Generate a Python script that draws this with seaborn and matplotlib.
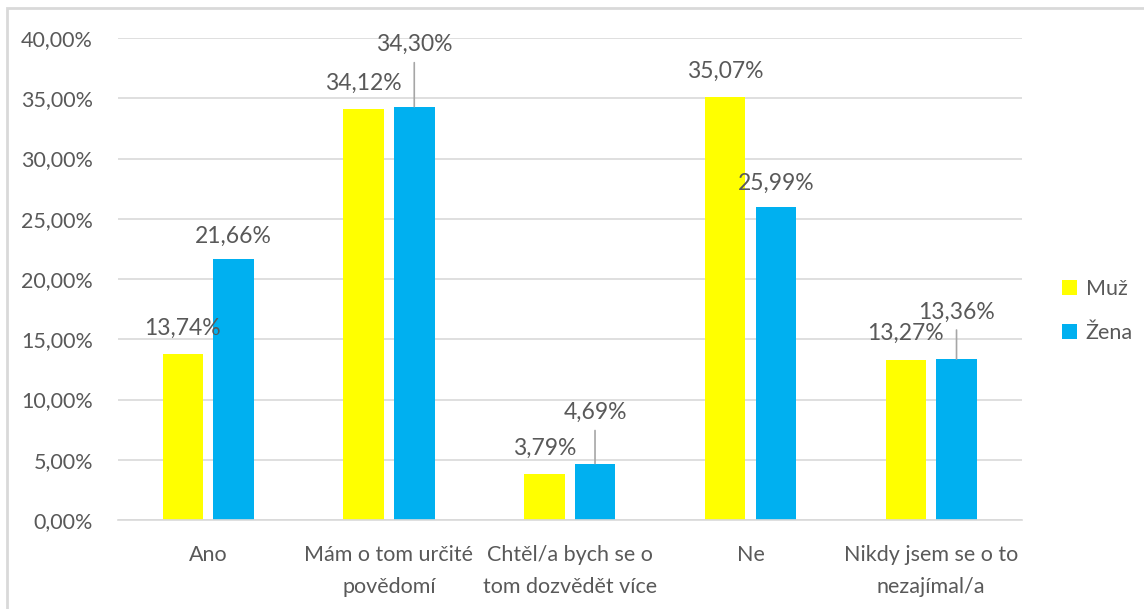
import pandas as pd
import matplotlib.pyplot as plt
import seaborn as sns
from matplotlib.patches import Rectangle

categories = ["Ano", "Mám o tom určité\npovědomí", "Chtěl/a bych se o\ntom dozvědět více",
              "Ne", "Nikdy jsem se o to\nnezajímal/a"]
muz = [13.74, 34.12, 3.79, 35.07, 13.27]
zena = [21.66, 34.30, 4.69, 25.99, 13.36]
series = ["Muž", "Žena"]
colors = ["#FFFF00", "#00B0F0"]
y_ticks = [0, 5, 10, 15, 20, 25, 30, 35, 40]

# label offsets above bar top (pixels); leader lines where Excel moved the label
label_dy = {"Muž": [26, 26, 26, 26, 27], "Žena": [23, 62, 51, 24, 47]}
leader = {"Muž": [False] * 5, "Žena": [False, True, True, False, True]}

df = pd.DataFrame({
    "kategorie": categories * 2,
    "pohlavi": [series[0]] * len(muz) + [series[1]] * len(zena),
    "podil": muz + zena,
})

sns.set_theme(style="white")
plt.rcParams["font.family"] = ["Lato", "DejaVu Sans"]
text_color = "#595959"
grid_color = "#D9D9D9"

fig = plt.figure(figsize=(11.44, 6.09), dpi=100)
ax = fig.add_axes([0.103, 0.146, 0.79, 0.7916])
fig.patches.append(Rectangle((7 / 1144, -0.1), 1.2, 1 - 8 / 609 + 0.1, transform=fig.transFigure,
                             fill=False, edgecolor=grid_color, linewidth=2, zorder=-1))

sns.barplot(data=df, x="kategorie", y="podil", hue="pohlavi", palette=colors,
            width=0.56, gap=0.2, ax=ax, saturation=1, linewidth=0)

ax.set_ylim(0, 40)
ax.set_yticks(y_ticks)
ax.set_yticklabels([f"{v:.2f}%".replace(".", ",") for v in y_ticks])
ax.set_xticks(range(len(categories)))
ax.set_xticklabels(categories, linespacing=1.75)
ax.yaxis.grid(True, color=grid_color, linewidth=1.2)
ax.set_axisbelow(True)
for s in ["top", "right", "left"]:
    ax.spines[s].set_visible(False)
ax.spines["bottom"].set_color(grid_color)
ax.spines["bottom"].set_linewidth(1.2)
ax.tick_params(axis="both", length=0, labelsize=15.5, colors=text_color)
ax.tick_params(axis="y", pad=18)
ax.tick_params(axis="x", pad=18)
ax.set_xlabel("")
ax.set_ylabel("")

for name, cont in zip(series, ax.containers):
    for i, bar in enumerate(cont):
        x = bar.get_x() + bar.get_width() / 2
        h = bar.get_height()
        txt = f"{h:.2f}%".replace(".", ",")
        if leader[name][i]:
            ax.annotate(txt, (x, h), xytext=(0, label_dy[name][i]), textcoords="offset pixels",
                        ha="center", va="center", fontsize=16.5, color=text_color,
                        arrowprops=dict(arrowstyle="-", color="#A6A6A6", lw=1.2,
                                        relpos=(0.5, 0), shrinkA=3, shrinkB=0))
        else:
            ax.annotate(txt, (x, h), xytext=(0, label_dy[name][i]), textcoords="offset pixels",
                        ha="center", va="center", fontsize=16.5, color=text_color)

handles, labels = ax.get_legend_handles_labels()
leg = ax.legend(handles, labels, loc="center left", bbox_to_anchor=(1.035, 0.434),
                frameon=False, fontsize=15.5, handlelength=0.7, handleheight=0.7,
                handletextpad=0.4, labelspacing=1.1, borderaxespad=0)
for t in leg.get_texts():
    t.set_color(text_color)

fig.savefig("out.png", dpi=100)
